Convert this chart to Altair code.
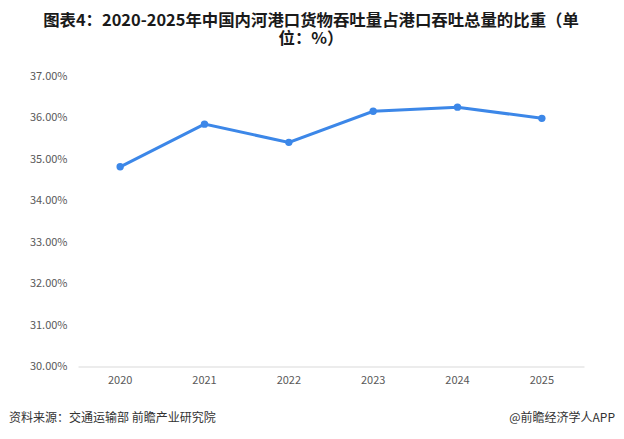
import altair as alt
import pandas as pd

years = ["2020", "2021", "2022", "2023", "2024", "2025"]
shares = [34.82, 35.85, 35.41, 36.16, 36.26, 35.99]
y_ticks = [30, 31, 32, 33, 34, 35, 36, 37]

title_lines = ["图表4：2020-2025年中国内河港口货物吞吐量占港口吞吐总量的比重（单", "位：%）"]
source_text = "资料来源：交通运输部 前瞻产业研究院"
brand_text = "@前瞻经济学人APP"

df = pd.DataFrame({"year": years, "share": shares})
one = pd.DataFrame({"a": [0]})

FONT = "Noto Sans CJK SC"
W, H = 506, 290

x_enc = alt.X("year:N", sort=years, title=None,
              scale=alt.Scale(type="band", paddingInner=0, paddingOuter=0),
              axis=alt.Axis(labelAngle=0, labelColor="#595959", labelFontSize=11,
                            labelFont=FONT, ticks=False, domainColor="#d9d9d9",
                            labelPadding=8, grid=False))
y_enc = alt.Y("share:Q", title=None,
              scale=alt.Scale(domain=[30, 37], nice=False, zero=False),
              axis=alt.Axis(values=y_ticks, labelExpr="format(datum.value, '.2f') + '%'",
                            labelColor="#595959", labelFontSize=11, labelFont=FONT,
                            ticks=False, domain=False, grid=False, labelPadding=11))

line = alt.Chart(df).mark_line(color="#3C87E8", strokeWidth=3).encode(x=x_enc, y=y_enc)
pts = alt.Chart(df).mark_point(filled=True, color="#3C87E8", size=55, opacity=1).encode(
    x=alt.X("year:N", sort=years), y="share:Q")

t1 = alt.Chart(one).mark_text(font=FONT, fontSize=16.4, fontWeight="bold", color="#1a1a1a",
                              align="center", baseline="middle").encode(
    x=alt.value(233), y=alt.value(21 - 76.5), text=alt.value(title_lines[0]))
t2 = alt.Chart(one).mark_text(font=FONT, fontSize=16.4, fontWeight="bold", color="#1a1a1a",
                              align="center", baseline="middle").encode(
    x=alt.value(233), y=alt.value(38.5 - 76.5), text=alt.value(title_lines[1]))
src = alt.Chart(one).mark_text(font=FONT, fontSize=12, color="#333333",
                               align="left", baseline="middle").encode(
    x=alt.value(9 - 78), y=alt.value(418 - 76.5), text=alt.value(source_text))
brand = alt.Chart(one).mark_text(font=FONT, fontSize=12, color="#333333",
                                 align="right", baseline="middle").encode(
    x=alt.value(615 - 78), y=alt.value(418 - 76.5), text=alt.value(brand_text))

chart = alt.layer(line, pts, t1, t2, src, brand).properties(
    width=W, height=H,
    background="white",
    autosize=alt.AutoSizeParams(type="none"),
    padding={"left": 70, "top": 68.5, "right": 32, "bottom": 60},
).configure_view(strokeWidth=0)

chart.save("out.html", embed_options={"renderer": "svg", "actions": False})
